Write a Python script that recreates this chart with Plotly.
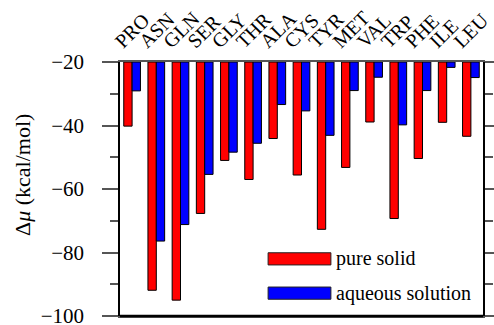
import plotly.graph_objects as go

categories = ["PRO", "ASN", "GLN", "SER", "GLY", "THR", "ALA", "CYS", "TYR",
              "MET", "VAL", "TRP", "PHE", "ILE", "LEU"]
pure_solid = [-40.2, -91.9, -95.0, -67.7, -51.0, -57.0, -44.1, -55.6, -72.7,
              -53.2, -38.9, -69.3, -50.4, -39.0, -43.4]
aqueous = [-29.1, -76.4, -71.2, -55.4, -48.4, -45.6, -33.4, -35.4, -43.1,
           -29.0, -24.8, -39.8, -29.0, -21.7, -24.9]
baseline = -20
y_ticks = [-100, -80, -60, -40, -20]
y_ticklabels = ["\u2212100", "\u221280", "\u221260", "\u221240", "\u221220"]
y_title = "\u0394<i>\u03bc</i> (kcal/mol)"
series_names = ["pure solid", "aqueous solution"]
colors = ["#ff0000", "#0000ff"]

FONT = "'Liberation Serif', 'Times New Roman', serif"

fig = go.Figure()
for name, vals, col in zip(series_names, [pure_solid, aqueous], colors):
    fig.add_trace(go.Bar(
        x=categories, y=[v - baseline for v in vals], base=baseline,
        name=name, marker=dict(color=col, line=dict(color="black", width=1)),
        showlegend=False))

fig.update_layout(
    width=494, height=325,
    margin=dict(l=120, r=11, t=62, b=9),
    plot_bgcolor="white", paper_bgcolor="white",
    barmode="group", bargap=0.31, bargroupgap=0,
    font=dict(family=FONT, color="black", size=20),
    xaxis=dict(side="top", tickangle=-45, ticks="", showline=True,
               tickmode="array", tickvals=categories, ticktext=categories,
               linecolor="#555", linewidth=1.5, mirror=True, automargin=False,
               tickfont=dict(family=FONT, size=20), ticklabelstandoff=0,
               ticklabelshift=-16),
    yaxis=dict(range=[-100, -20], tickvals=y_ticks, ticktext=y_ticklabels,
               ticks="outside", ticklen=16, tickcolor="#555", tickwidth=1.5,
               minor=dict(dtick=10, tick0=-100, ticks="outside", ticklen=8,
                          tickcolor="#555", tickwidth=1.5),
               showline=True, linecolor="black", linewidth=1.5, mirror="allticks",
               showgrid=False, zeroline=False, automargin=False,
               ticklabeloverflow="allow", ticklabelstandoff=14,
               tickfont=dict(family=FONT, size=21)),
)

# thicker black bottom frame line
fig.add_shape(type="line", xref="paper", yref="paper", x0=0, x1=1, y0=0, y1=0,
              line=dict(color="black", width=2.5))

# y-axis title (placed as annotation to match the reference position)
fig.add_annotation(xref="paper", yref="paper", x=-0.27, y=0.555, text=y_title,
                   textangle=-90, showarrow=False, xanchor="center",
                   yanchor="middle", font=dict(family=FONT, size=22))

# legend drawn as boxes + text
leg_y = [0.225, 0.09]
for name, col, yc in zip(series_names, colors, leg_y):
    fig.add_shape(type="rect", xref="paper", yref="paper",
                  x0=0.408, x1=0.581, y0=yc - 0.024, y1=yc + 0.024,
                  fillcolor=col, line=dict(color="#222", width=1))
    fig.add_annotation(xref="paper", yref="paper", x=0.59, y=yc, text=name,
                       showarrow=False, xanchor="left", yanchor="middle",
                       font=dict(family=FONT, size=20))

fig.write_html("out.html")
